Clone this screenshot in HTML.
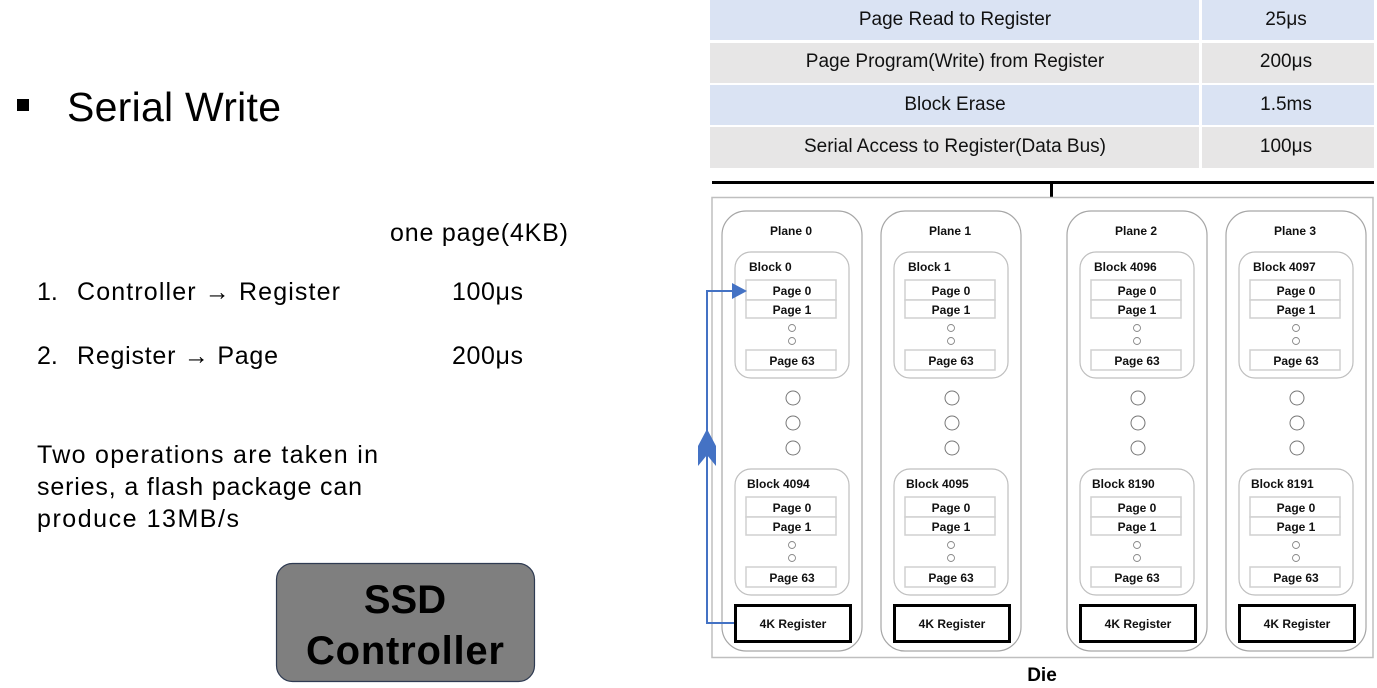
<!DOCTYPE html>
<html><head><meta charset="utf-8"><style>
html,body{margin:0;padding:0;background:#fff;}
svg{display:block;font-family:"Liberation Sans","Noto Sans CJK KR",sans-serif;}
</style></head><body>
<svg width="1377" height="688" viewBox="0 0 1377 688" xmlns="http://www.w3.org/2000/svg">
<defs>
<g id="blk">
  <rect x="13" y="0" width="114" height="126" rx="16" fill="#fff" stroke="#bfbfbf" stroke-width="1.2"/>
  <rect x="24" y="28" width="90" height="20" fill="#fff" stroke="#d0d0d0" stroke-width="1.5"/>
  <rect x="24" y="48" width="90" height="18" fill="#fff" stroke="#d0d0d0" stroke-width="1.5"/>
  <circle cx="70" cy="76" r="3.5" fill="none" stroke="#888" stroke-width="0.9"/>
  <circle cx="70" cy="89" r="3.5" fill="none" stroke="#888" stroke-width="0.9"/>
  <rect x="24" y="98" width="90" height="20" fill="#fff" stroke="#d0d0d0" stroke-width="1.5"/>
  <g font-size="12" font-weight="bold" fill="#111" text-anchor="middle">
    <text x="70" y="43">Page 0</text>
    <text x="70" y="62">Page 1</text>
    <text x="70" y="113">Page 63</text>
  </g>
</g>
<g id="pl">
  <rect x="0" y="211" width="140" height="440" rx="24" fill="#fff" stroke="#a6a6a6" stroke-width="1.2"/>
  <use href="#blk" y="252"/>
  <circle cx="71" cy="398" r="7" fill="none" stroke="#777" stroke-width="1"/>
  <circle cx="71" cy="423" r="7" fill="none" stroke="#777" stroke-width="1"/>
  <circle cx="71" cy="448" r="7" fill="none" stroke="#777" stroke-width="1"/>
  <use href="#blk" y="469"/>
  <rect x="13.5" y="605.5" width="115" height="36" fill="#fff" stroke="#000" stroke-width="3"/>
  <text x="71" y="628" font-size="12" font-weight="bold" text-anchor="middle" fill="#111">4K Register</text>
</g>
</defs>

<!-- Left side -->
<rect x="17" y="99" width="12" height="12" fill="#000"/>
<text x="67" y="121" font-size="41" fill="#000" textLength="214">Serial Write</text>
<text x="390" y="241" font-size="25" fill="#000" textLength="178">one page(4KB)</text>
<text x="37" y="300" font-size="25" fill="#000">1.</text>
<text x="77" y="300" font-size="25" fill="#000" textLength="263">Controller → Register</text>
<text x="452" y="300" font-size="25" fill="#000" textLength="71">100μs</text>
<text x="37" y="364" font-size="25" fill="#000">2.</text>
<text x="77" y="364" font-size="25" fill="#000" textLength="201">Register → Page</text>
<text x="452" y="364" font-size="25" fill="#000" textLength="71">200μs</text>
<text x="37" y="463" font-size="25" fill="#000" textLength="341">Two operations are taken in</text>
<text x="37" y="495" font-size="25" fill="#000" textLength="325">series, a flash package can</text>
<text x="37" y="527" font-size="25" fill="#000" textLength="202">produce 13MB/s</text>

<rect x="276.5" y="563.5" width="258" height="118" rx="16" fill="#7f7f7f" stroke="#2f3b52" stroke-width="1.2"/>
<text x="405" y="613" font-size="40" font-weight="bold" text-anchor="middle" fill="#000">SSD</text>
<text x="405" y="664" font-size="40" font-weight="bold" text-anchor="middle" fill="#000" textLength="198">Controller</text>

<!-- Table -->
<rect x="710" y="0" width="489" height="40" fill="#dae3f3"/>
<rect x="1202" y="0" width="172" height="40" fill="#dae3f3"/>
<rect x="710" y="43" width="489" height="40" fill="#e7e6e6"/>
<rect x="1202" y="43" width="172" height="40" fill="#e7e6e6"/>
<rect x="710" y="85" width="489" height="40" fill="#dae3f3"/>
<rect x="1202" y="85" width="172" height="40" fill="#dae3f3"/>
<rect x="710" y="127" width="489" height="41" fill="#e7e6e6"/>
<rect x="1202" y="127" width="172" height="41" fill="#e7e6e6"/>
<g font-size="19" fill="#111" text-anchor="middle">
  <text x="955" y="25">Page Read to Register</text>
  <text x="1286" y="25">25μs</text>
  <text x="955" y="67">Page Program(Write) from Register</text>
  <text x="1286" y="67">200μs</text>
  <text x="955" y="110">Block Erase</text>
  <text x="1286" y="110">1.5ms</text>
  <text x="955" y="152">Serial Access to Register(Data Bus)</text>
  <text x="1286" y="152">100μs</text>
</g>

<!-- Bus line -->
<rect x="712" y="181" width="662" height="3" fill="#000"/>
<rect x="1050" y="183" width="3" height="14" fill="#000"/>

<!-- Die -->
<rect x="712" y="197.5" width="661" height="460" fill="#fff" stroke="#bfbfbf" stroke-width="1.5"/>
<use href="#pl" x="722"/>
<use href="#pl" x="881"/>
<use href="#pl" x="1067"/>
<use href="#pl" x="1226"/>
<g font-size="12" font-weight="bold" fill="#111">
  <text x="791" y="235" text-anchor="middle">Plane 0</text>
  <text x="950" y="235" text-anchor="middle">Plane 1</text>
  <text x="1136" y="235" text-anchor="middle">Plane 2</text>
  <text x="1295" y="235" text-anchor="middle">Plane 3</text>
  <text x="749" y="271">Block 0</text>
  <text x="908" y="271">Block 1</text>
  <text x="1094" y="271">Block 4096</text>
  <text x="1253" y="271">Block 4097</text>
  <text x="747" y="488">Block 4094</text>
  <text x="906" y="488">Block 4095</text>
  <text x="1092" y="488">Block 8190</text>
  <text x="1251" y="488">Block 8191</text>
</g>
<text x="1042" y="681" font-size="19" font-weight="bold" text-anchor="middle" fill="#000">Die</text>

<!-- Blue arrow -->
<polyline points="734,623 707,623 707,291 733,291" fill="none" stroke="#4472c4" stroke-width="2"/>
<polygon points="732,283 747,291 732,299" fill="#4472c4"/>
<polygon points="707,429 716,446 716,466 707,455 698,466 698,446" fill="#4472c4"/>
</svg>
</body></html>
